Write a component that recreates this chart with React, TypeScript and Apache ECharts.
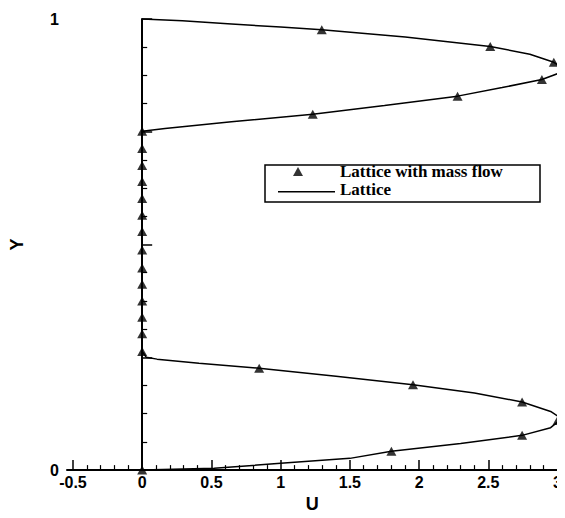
import React, { useEffect, useRef } from "react";
import * as echarts from "echarts";

// Marker series: "Lattice with mass flow"
const markerU = [
  1.297, 2.514, 2.973, 2.887, 2.278, 1.232,
  0, 0, 0, 0, 0, 0, 0, 0, 0, 0, 0, 0, 0, 0,
  0.845, 1.956, 2.744, 3.0, 2.744, 1.8, 0,
];
const markerY = [
  0.976, 0.939, 0.904, 0.866, 0.829, 0.789,
  0.751, 0.713, 0.675, 0.64, 0.602, 0.565, 0.529, 0.488, 0.448, 0.412, 0.375, 0.339, 0.302, 0.263,
  0.226, 0.189, 0.151, 0.11, 0.077, 0.042, 0.0,
];

// Line series: "Lattice"
const lineU = [
  0, 0.29, 0.645, 1.0, 1.297, 1.9, 2.514, 2.8, 2.973, 3.03, 3.01, 2.887, 2.6, 2.278, 1.75, 1.232, 0.645, 0.165, 0,
  0, 0.03, 0.107, 0.41, 0.845, 1.4, 1.956, 2.4, 2.744, 2.95, 3.03, 2.95, 2.744, 2.3, 1.8, 1.5, 1.0, 0.52, 0,
];
const lineY = [
  1.0, 0.996, 0.989, 0.982, 0.976, 0.96, 0.939, 0.922, 0.904, 0.893, 0.88, 0.866, 0.848, 0.829, 0.808, 0.789, 0.772, 0.757, 0.751,
  0.263, 0.25, 0.246, 0.237, 0.226, 0.208, 0.189, 0.171, 0.151, 0.13, 0.114, 0.094, 0.077, 0.059, 0.042, 0.026, 0.015, 0.004, 0,
];

const xMajorTicks = [-0.5, 0, 0.5, 1, 1.5, 2, 2.5, 3];
const xMinorTicks = [
  -0.4, -0.3, -0.2, -0.1, 0.1, 0.2, 0.3, 0.4, 0.6, 0.7, 0.8, 0.9, 1.1, 1.2, 1.3, 1.4,
  1.6, 1.7, 1.8, 1.9, 2.1, 2.2, 2.3, 2.4, 2.6, 2.7, 2.8, 2.9,
];
const yLabels = [0, 1];

// legend icons drawn in a 57x9 box
const triangleIcon = "path://M0,0L0,0M57,9L57,9M15,9L20,0L25,9Z";
const lineIcon = "path://M0,0L0,0M57,9L57,9M0,6L57,6L57,7.5L0,7.5Z";

export default function App() {
  const ref = useRef<HTMLDivElement>(null);
  useEffect(() => {
    if (!ref.current) return;
    const chart = echarts.init(ref.current, null, { renderer: "svg" });
    const sans = "Liberation Sans";
    const xBase = {
      type: "value" as const,
      min: -0.543,
      max: 3,
      splitLine: { show: false },
    };
    chart.setOption({
      animation: false,
      backgroundColor: "#fff",
      grid: { left: 64, right: 6, top: 19, bottom: 43 },
      xAxis: [
        {
          ...xBase,
          name: "U",
          nameLocation: "middle",
          nameGap: 24,
          nameTextStyle: { fontFamily: sans, fontWeight: "bold", fontSize: 18, color: "#000" },
          axisLine: { show: true, lineStyle: { color: "#000", width: 2 } },
          axisTick: { show: true, inside: true, length: 10, customValues: xMajorTicks, lineStyle: { color: "#000", width: 1.5 } },
          axisLabel: {
            customValues: xMajorTicks,
            margin: 4,
            fontFamily: sans,
            fontWeight: "bold",
            fontSize: 16,
            color: "#000",
          },
        },
        {
          ...xBase,
          position: "bottom",
          axisLine: { show: false },
          axisTick: { show: true, inside: true, length: 5, customValues: xMinorTicks, lineStyle: { color: "#000", width: 1.2 } },
          axisLabel: { show: false },
        },
      ],
      yAxis: {
        type: "value",
        min: 0,
        max: 1,
        interval: 0.25,
        name: "Y",
        nameLocation: "middle",
        nameGap: 41,
        nameTextStyle: { fontFamily: sans, fontWeight: "bold", fontSize: 18, color: "#000" },
        splitLine: { show: false },
        axisLine: { show: true, lineStyle: { color: "#000", width: 2 } },
        axisTick: { show: true, inside: true, length: 10, lineStyle: { color: "#000", width: 1.5 } },
        minorTick: { show: true, splitNumber: 4, length: 5, lineStyle: { color: "#000", width: 1.2 } },
        axisLabel: {
          customValues: yLabels,
          margin: 8,
          fontFamily: sans,
          fontWeight: "bold",
          fontSize: 16,
          color: "#000",
        },
      },
      legend: {
        orient: "vertical",
        left: 278,
        top: 163,
        padding: 0,
        itemGap: 1,
        itemWidth: 57,
        itemHeight: 9,
        data: [
          { name: "Lattice with mass flow", icon: triangleIcon, itemStyle: { color: "#000" } },
          { name: "Lattice", icon: lineIcon, itemStyle: { color: "#000" } },
        ],
        textStyle: {
          fontFamily: "Liberation Serif",
          fontWeight: "bold",
          fontSize: 17,
          lineHeight: 17,
          color: "#000",
        },
      },
      graphic: [
        {
          type: "rect",
          shape: { x: 265, y: 165, width: 275, height: 37 },
          style: { fill: "none", stroke: "#000", lineWidth: 1.5 },
          z: 100,
        },
      ],
      series: [
        {
          name: "Lattice with mass flow",
          type: "scatter",
          symbol: "triangle",
          symbolSize: [10, 9],
          itemStyle: { color: "#000" },
          clip: false,
          z: 3,
          data: markerU.map((u, i) => [u, markerY[i]]),
        },
        {
          name: "Lattice",
          type: "line",
          symbol: "none",
          showSymbol: false,
          clip: false,
          lineStyle: { color: "#000", width: 1.5 },
          itemStyle: { color: "#000" },
          z: 2,
          data: lineU.map((u, i) => [u, lineY[i]]),
        },
      ],
    });
    return () => chart.dispose();
  }, []);
  return <div ref={ref} style={{ width: 565, height: 518, margin: -8 }} />;
}
